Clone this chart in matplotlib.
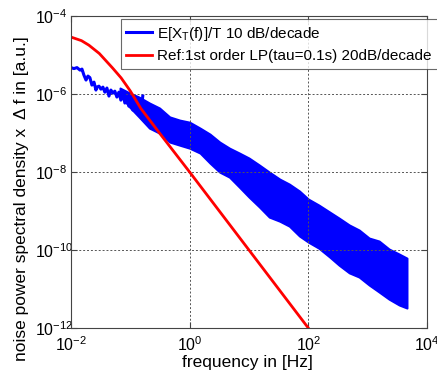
import matplotlib
matplotlib.use("Agg")
import matplotlib.pyplot as plt
from matplotlib.ticker import LogLocator, NullLocator

plt.rcParams['font.family'] = ['Liberation Sans', 'DejaVu Sans']
plt.rcParams['mathtext.fontset'] = 'custom'
plt.rcParams['mathtext.rm'] = 'Liberation Sans'
plt.rcParams['mathtext.it'] = 'Liberation Sans:italic'

# low frequency part of the measured spectrum (sparse line)
f_low = [0.0100, 0.0112, 0.0126, 0.0142, 0.0153, 0.0165, 0.0179, 0.0193,
         0.0208, 0.0225, 0.0244, 0.0263, 0.0274, 0.0296, 0.0319, 0.0345,
         0.0372, 0.0403, 0.0436, 0.0470, 0.0508, 0.0548, 0.0593, 0.0641,
         0.0692, 0.0748, 0.0809, 0.0873, 0.0944, 0.102, 0.110, 0.119,
         0.129, 0.139, 0.150, 0.162]
psd_low = [4.78e-6, 4.51e-6, 4.78e-6, 4.12e-6, 4.38e-6, 3.07e-6, 2.29e-6, 2.90e-6,
           2.65e-6, 1.70e-6, 2.03e-6, 1.27e-6, 1.51e-6, 1.60e-6, 1.34e-6, 1.51e-6,
           1.12e-6, 1.43e-6, 8.9e-7, 1.27e-6, 1.06e-6, 1.19e-6, 8.4e-7, 1.12e-6,
           7.0e-7, 1.0e-6, 5.9e-7, 8.9e-7, 4.9e-7, 7.9e-7, 3.9e-7, 7.4e-7,
           3.45e-7, 6.6e-7, 2.9e-7, 8.9e-7]

# dense part of the spectrum: upper / lower envelope of the noise
f_band = [0.067, 0.098, 0.14, 0.21, 0.31, 0.46, 0.68, 1.0, 1.5, 2.2, 3.2, 4.7,
          6.9, 10, 15, 22, 33, 48, 71, 100, 150, 230, 330, 490, 720, 1060,
          1560, 2300, 3400, 4600]
psd_hi = [1.43e-6, 1.06e-6, 8.4e-7, 5.9e-7, 4.4e-7, 2.6e-7, 2.15e-7, 1.9e-7,
          1.34e-7, 9.4e-8, 5.9e-8, 4.1e-8, 3.07e-8, 2.29e-8, 1.51e-8, 1.0e-8,
          6.6e-9, 4.9e-9, 3.26e-9, 2.03e-9, 1.43e-9, 9.4e-10, 6.6e-10, 4.4e-10,
          3.26e-10, 2.03e-10, 1.70e-10, 1.06e-10, 7.9e-11, 6.2e-11]
psd_lo = [9.4e-7, 4.6e-7, 2.6e-7, 1.34e-7, 1.0e-7, 5.9e-8, 4.9e-8, 4.1e-8,
          3.07e-8, 1.70e-8, 1.0e-8, 7.4e-9, 4.1e-9, 2.29e-9, 1.27e-9, 7.0e-10,
          5.5e-10, 4.1e-10, 2.29e-10, 1.60e-10, 1.12e-10, 6.6e-11, 4.1e-11, 2.6e-11,
          2.03e-11, 1.27e-11, 8.4e-12, 5.5e-12, 3.9e-12, 3.26e-12]

# reference: 1st order low pass
f_ref = [0.01, 0.015, 0.02, 0.03, 0.05, 0.07, 0.1, 0.15, 0.3, 1, 10, 100]
psd_ref = [2.9e-5, 2.35e-5, 1.8e-5, 1.1e-5, 4.7e-6, 2.6e-6, 1.2e-6, 4.3e-7,
           1.07e-7, 1e-8, 1e-10, 1e-12]

label_meas = r'E[X$_\mathrm{T}$(f)]/T 10 dB/decade'
label_ref = 'Ref:1st order LP(tau=0.1s) 20dB/decade'

fig = plt.figure(figsize=(4.37, 3.75), dpi=100)
ax = fig.add_axes([0.1625, 0.1253, 0.8145, 0.8317])

blue = '#0000ff'
ax.fill_between(f_band, psd_lo, psd_hi, color=blue, lw=1.5, edgecolor=blue)
ax.plot(f_low, psd_low, color=blue, lw=2.2, label=label_meas)
ax.plot(f_ref, psd_ref, color='#ff0000', lw=2.0, label=label_ref)

ax.set_xscale('log')
ax.set_yscale('log')
ax.set_xlim(1e-2, 1e4)
ax.set_ylim(1e-12, 1e-4)
ax.xaxis.set_major_locator(LogLocator(base=100))
ax.yaxis.set_major_locator(LogLocator(base=100))
ax.xaxis.set_minor_locator(NullLocator())
ax.yaxis.set_minor_locator(NullLocator())

ax.grid(True, which='major', color='#555555', linestyle=(0, (2, 2)), lw=0.7)
for s in ax.spines.values():
    s.set_color('#444444')
    s.set_linewidth(0.8)
ax.tick_params(direction='in', length=4, color='#444444', labelsize=11.5,
               top=True, right=True)
ax.tick_params(axis='x', pad=5.5)
ax.tick_params(axis='y', pad=26)
fig.canvas.draw()
for lab in ax.get_yticklabels():
    lab.set_horizontalalignment('left')

ax.set_xlabel('frequency in [Hz]', fontsize=12.5)
ax.set_ylabel('noise power spectral density x  \u0394 f in [a.u.]', fontsize=12.5)
ax.xaxis.set_label_coords(0.496, -0.088)
ax.yaxis.set_label_coords(-0.117, 0.415)

# legend box runs past the right edge of the figure, as in the original
leg = ax.legend(loc='upper left', bbox_to_anchor=(0.1404, 0.99, 0.9, 0.0),
                mode='expand', fontsize=11,
                frameon=True, fancybox=False, edgecolor='#444444',
                handlelength=1.7, handletextpad=0.33, borderpad=0.35,
                labelspacing=0.45, borderaxespad=0)
leg.get_frame().set_linewidth(0.8)

fig.savefig('out.png', dpi=100)
